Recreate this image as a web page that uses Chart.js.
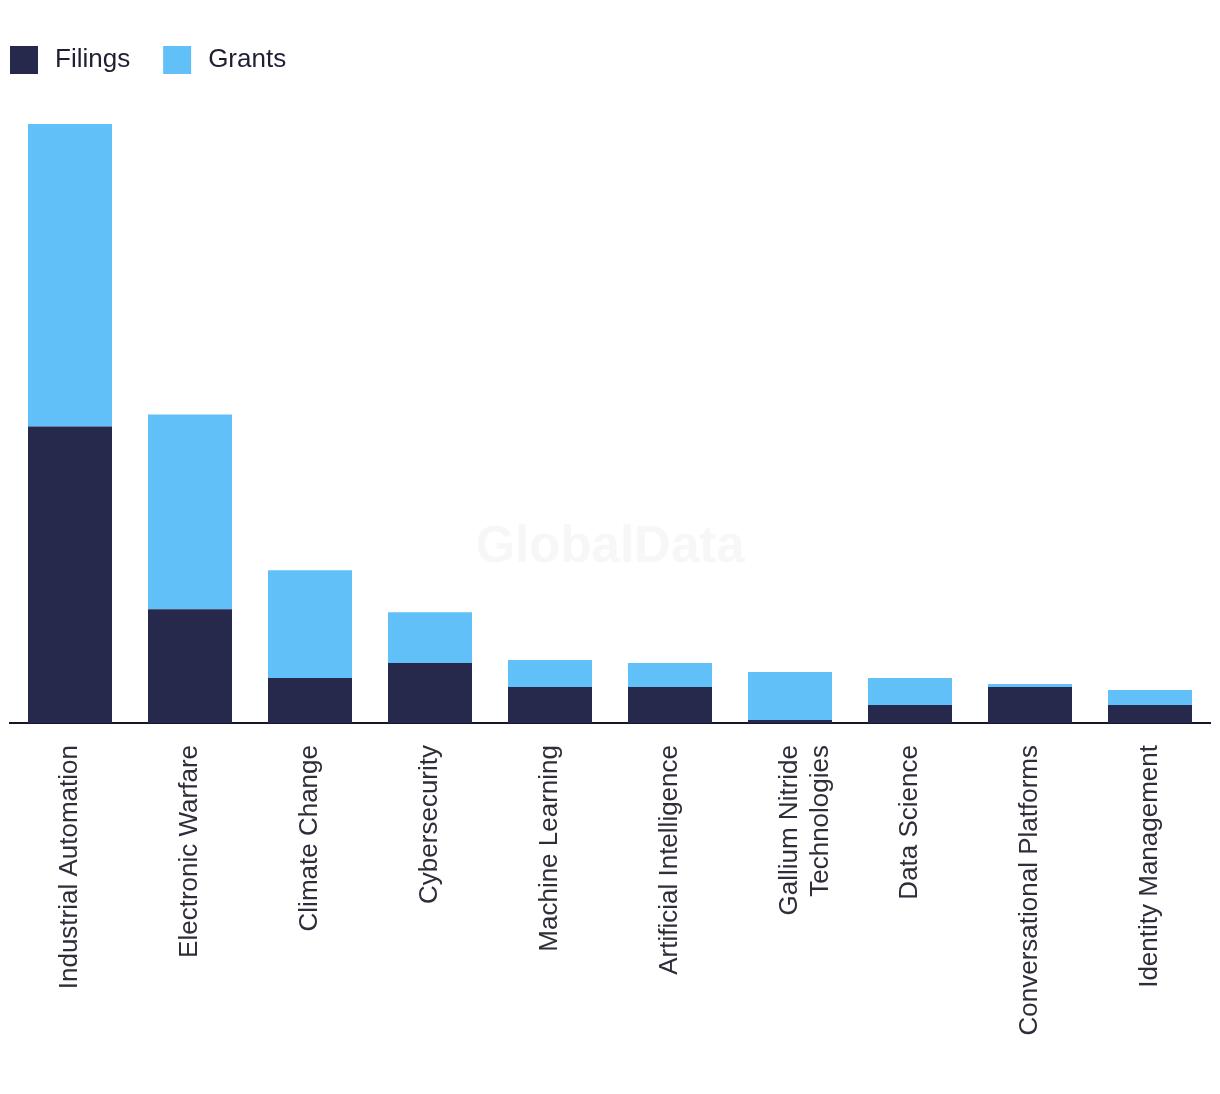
<!DOCTYPE html>
<html>
<head>
<meta charset="utf-8">
<script src="https://cdn.jsdelivr.net/npm/chart.js@4/dist/chart.umd.min.js"></script>
<style>
  html, body { margin: 0; padding: 0; background: #fff; }
  #wrap { width: 1220px; height: 1094px; position: relative; }
</style>
</head>
<body>
<div id="wrap"><canvas id="chart"></canvas></div>
<script>
const categories = [
  'Industrial Automation',
  'Electronic Warfare',
  'Climate Change',
  'Cybersecurity',
  'Machine Learning',
  'Artificial Intelligence',
  ['Gallium Nitride', 'Technologies'],
  'Data Science',
  'Conversational Platforms',
  'Identity Management'
];
const filings = [99, 38, 15, 20, 12, 12, 1, 6, 12, 6];
const grants = [101, 65, 36, 17, 9, 8, 16, 9, 1, 5];

const labelFont = 'Liberation Sans, Arial, sans-serif';

// faint watermark behind the bars
const watermark = {
  id: 'watermark',
  beforeDatasetsDraw(chart) {
    const { ctx, chartArea } = chart;
    ctx.save();
    ctx.font = 'bold 51px ' + labelFont;
    ctx.fillStyle = '#f7f7f7';
    ctx.textAlign = 'center';
    ctx.textBaseline = 'middle';
    ctx.fillText('GlobalData', (chartArea.left + chartArea.right) / 2, 548);
    ctx.restore();
  }
};

// legend drawn by hand so the boxes sit flush with the left edge
const squareLegend = {
  id: 'squareLegend',
  afterDraw(chart) {
    const { ctx } = chart;
    let x = 10;
    ctx.save();
    ctx.font = '26px ' + labelFont;
    ctx.textBaseline = 'middle';
    chart.data.datasets.forEach(ds => {
      ctx.fillStyle = ds.backgroundColor;
      ctx.fillRect(x, 46, 28, 28);
      ctx.fillStyle = '#1f1f33';
      ctx.fillText(ds.label, x + 45, 60);
      x += 45 + ctx.measureText(ds.label).width + 33;
    });
    ctx.restore();
  }
};

new Chart(document.getElementById('chart'), {
  type: 'bar',
  data: {
    labels: categories,
    datasets: [
      { label: 'Filings', data: filings, backgroundColor: '#26284c' },
      { label: 'Grants', data: grants, backgroundColor: '#62c0f8' }
    ]
  },
  options: {
    responsive: true,
    maintainAspectRatio: false,
    animation: false,
    layout: { padding: { left: 10, right: 10, top: 124, bottom: 0 } },
    datasets: { bar: { barPercentage: 0.7, categoryPercentage: 1 } },
    plugins: {
      legend: { display: false },
      tooltip: { enabled: false }
    },
    scales: {
      x: {
        stacked: true,
        grid: { display: false },
        border: { display: true, color: '#16162a', width: 2 },
        ticks: {
          maxRotation: 90,
          minRotation: 90,
          padding: 14,
          color: '#2e2e3a',
          font: { family: labelFont, size: 26, lineHeight: 1.2 }
        },
        afterFit(scale) { scale.height = 371; }
      },
      y: {
        stacked: true,
        display: false,
        min: 0,
        max: 200
      }
    }
  },
  plugins: [watermark, squareLegend]
});
</script>
</body>
</html>
